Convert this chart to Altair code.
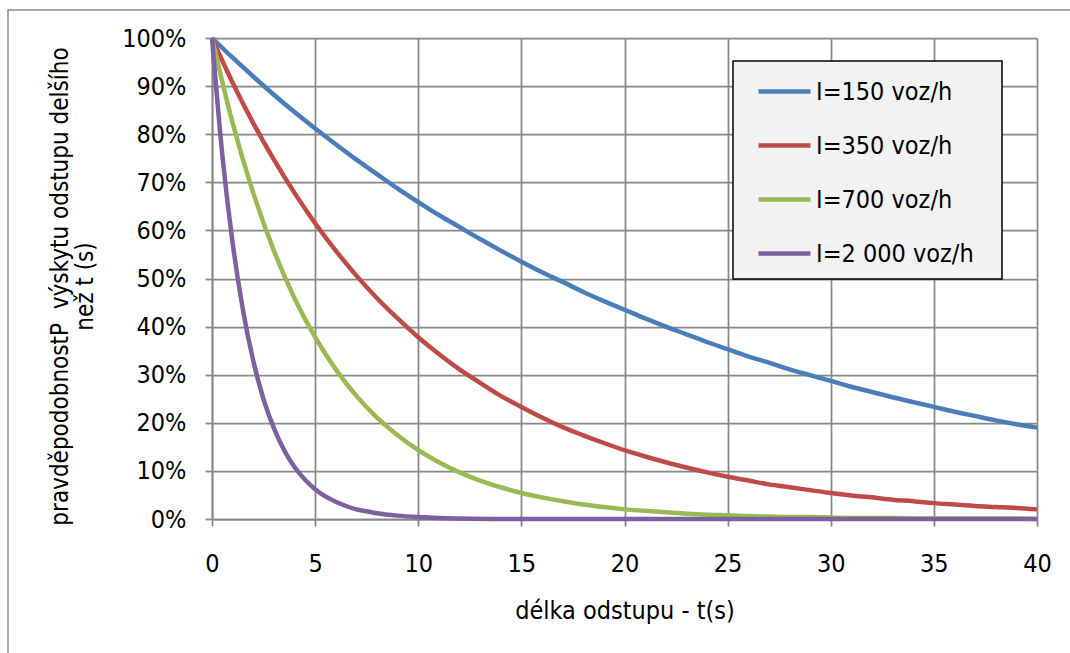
import altair as alt
import pandas as pd

# values
t_main = list(range(0, 41))
p150 = [1.000, 0.959, 0.920, 0.882, 0.846, 0.812, 0.779, 0.747, 0.717, 0.687,
        0.659, 0.632, 0.607, 0.582, 0.558, 0.535, 0.513, 0.493, 0.472, 0.453,
        0.435, 0.417, 0.400, 0.384, 0.368, 0.353, 0.338, 0.325, 0.311, 0.299,
        0.287, 0.275, 0.264, 0.253, 0.243, 0.233, 0.223, 0.214, 0.205, 0.197, 0.190]
p350 = [1.000, 0.907, 0.823, 0.747, 0.678, 0.615, 0.558, 0.506, 0.459, 0.417,
        0.378, 0.343, 0.311, 0.283, 0.256, 0.233, 0.211, 0.191, 0.174, 0.158,
        0.143, 0.130, 0.118, 0.107, 0.097, 0.088, 0.080, 0.072, 0.066, 0.060,
        0.054, 0.049, 0.045, 0.040, 0.037, 0.033, 0.030, 0.027, 0.025, 0.023, 0.020]
p700 = [1.000, 0.823, 0.678, 0.558, 0.459, 0.378, 0.311, 0.256, 0.211, 0.174,
        0.143, 0.118, 0.097, 0.080, 0.066, 0.054, 0.045, 0.037, 0.030, 0.025,
        0.020, 0.017, 0.014, 0.011, 0.009, 0.008, 0.006, 0.005, 0.004, 0.004,
        0.003, 0.002, 0.002, 0.002, 0.001, 0.001, 0.001, 0.001, 0.001, 0.001, 0.000]
t_2000 = [0, 0.5, 1, 1.5, 2, 2.5, 3, 3.5, 4, 4.5, 5, 5.5, 6, 6.5, 7, 7.5, 8, 9,
          10, 11, 12, 14, 20, 25, 30, 35, 40]
p2000 = [1.000, 0.757, 0.574, 0.435, 0.329, 0.249, 0.189, 0.143, 0.108, 0.082,
         0.062, 0.047, 0.036, 0.027, 0.020, 0.016, 0.012, 0.007, 0.004, 0.002,
         0.001, 0.000, 0.000, 0.000, 0.000, 0.000, 0.000]

series_names = ["I=150 voz/h", "I=350 voz/h", "I=700 voz/h", "I=2 000 voz/h"]
series_colors = ["#4A7EBB", "#BE4B48", "#98B954", "#7D60A0"]
x_ticks = [0, 5, 10, 15, 20, 25, 30, 35, 40]
y_ticks = [0, 0.1, 0.2, 0.3, 0.4, 0.5, 0.6, 0.7, 0.8, 0.9, 1.0]
x_title = "délka odstupu - t(s)"
y_title = ["pravděpodobnostP\u00a0 výskytu odstupu delšího", "než t (s)"]

rows = []
for name, ts, ps in [(series_names[0], t_main, p150), (series_names[1], t_main, p350),
                     (series_names[2], t_main, p700), (series_names[3], t_2000, p2000)]:
    for t, p in zip(ts, ps):
        rows.append({"t": t, "p": p, "series": name, "order": series_names.index(name)})
df = pd.DataFrame(rows)

FONT = "DejaVu Sans Condensed, DejaVu Sans, sans-serif"
FS = 25
GRID = "#878787"

one = pd.DataFrame({"a": [0]})

border = alt.Chart(one).mark_rect(fill="white", fillOpacity=0, stroke="#8a8a8a", strokeWidth=1.5).encode(
    x=alt.value(-204), x2=alt.value(900), y=alt.value(-28), y2=alt.value(700))

legend_box = alt.Chart(one).mark_rect(fill="#F2F2F2", stroke="black", strokeWidth=1.5).encode(
    x=alt.value(521), x2=alt.value(790), y=alt.value(23), y2=alt.value(241))

lines = alt.Chart(df).mark_line(strokeWidth=4.5, interpolate="monotone").encode(
    x=alt.X("t:Q", scale=alt.Scale(domain=[0, 40], nice=False),
            axis=alt.Axis(values=x_ticks, title=x_title, titleY=91,
                          titleBaseline="middle", labelPadding=25, labelFlush=False)),
    y=alt.Y("p:Q", scale=alt.Scale(domain=[0, 1], nice=False),
            axis=alt.Axis(values=y_ticks, format=".0%", title=y_title,
                          titleX=-152, titleY=248, titleBaseline="middle", titleAngle=270,
                          titleLineHeight=25, titleFontSize=24, labelPadding=19,
                          labelFlush=False)),
    color=alt.Color("series:N",
                    scale=alt.Scale(domain=series_names, range=series_colors),
                    legend=alt.Legend(title=None, orient="none", legendX=544, legendY=25,
                                      symbolType="stroke", symbolSize=2704,
                                      symbolStrokeWidth=4.5, rowPadding=12,
                                      labelOffset=3, labelFontSize=FS, labelFont=FONT,
                                      labelColor="black", labelLimit=400, padding=0)),
    order="order:Q",
    detail="series:N",
)

chart = alt.layer(border, legend_box, lines).properties(
    width=825, height=481,
    padding={"left": 212, "top": 38, "right": 33, "bottom": 134},
    autosize=alt.AutoSizeParams(type="none"),
    background="white",
).configure_view(stroke=None).configure_axis(
    grid=True, gridColor=GRID, gridWidth=1.75, gridOpacity=1,
    domainColor=GRID, domainWidth=1.75,
    tickColor=GRID, tickWidth=1.75, tickSize=7,
    labelFont=FONT, labelFontSize=FS, labelColor="black",
    titleFont=FONT, titleFontSize=FS, titleFontWeight="normal", titleColor="black",
)

chart.save("out.html", embed_options={"renderer": "svg", "actions": False})
